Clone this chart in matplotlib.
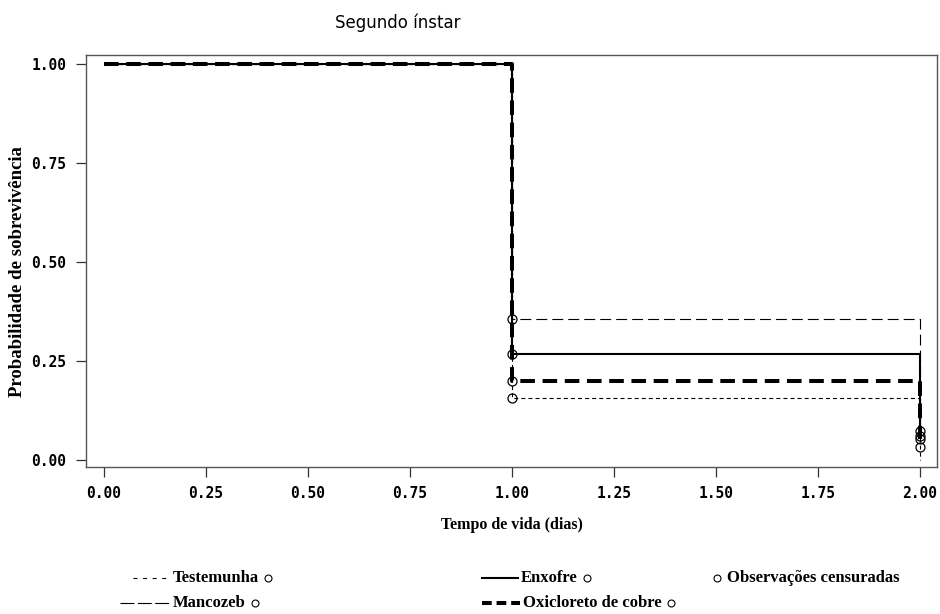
import matplotlib.pyplot as plt
from matplotlib.lines import Line2D

plt.rcParams['lines.scale_dashes'] = False

# Kaplan-Meier survival curves per treatment (time in days)
tempos = [0, 1, 2]
testemunha = [1.0, 0.156, 0.0]
mancozeb = [1.0, 0.355, 0.073]
enxofre = [1.0, 0.267, 0.060]
oxicloreto = [1.0, 0.200, 0.053]

# censored observations (time, survival)
cens_tempo = [1, 1, 1, 1, 2, 2, 2, 2]
cens_prob = [0.355, 0.267, 0.200, 0.156, 0.073, 0.060, 0.053, 0.033]

xticks = [0.00, 0.25, 0.50, 0.75, 1.00, 1.25, 1.50, 1.75, 2.00]
yticks = [0.00, 0.25, 0.50, 0.75, 1.00]

# line styles: width in points, dash pattern in points
estilos = {
    'Testemunha': dict(dat=testemunha, lw=0.8, dashes=(2.9, 2.2), leg=(2.9, 4.0)),
    'Mancozeb': dict(dat=mancozeb, lw=0.8, dashes=(7.9, 3.6), leg=(10, 2.5)),
    'Enxofre': dict(dat=enxofre, lw=1.5, dashes=(), leg=()),
    'Oxicloreto de cobre': dict(dat=oxicloreto, lw=2.9, dashes=(10.5, 5.5), leg=(7, 3.5)),
}

fig = plt.figure(figsize=(9.4, 6.14), dpi=100)
ax = fig.add_axes([86 / 940, 1 - 467 / 614, (937 - 86) / 940, (467 - 55) / 614])

for nome in ['Testemunha', 'Mancozeb', 'Enxofre', 'Oxicloreto de cobre']:
    e = estilos[nome]
    ls = '-' if not e['dashes'] else (0, e['dashes'])
    ax.step(tempos, e['dat'], where='post', color='black', lw=e['lw'],
            linestyle=ls, solid_capstyle='butt', dash_capstyle='butt')

ax.plot(cens_tempo, cens_prob, 'o', mfc='none', mec='black', ms=6.5, mew=0.9)

ax.set_xlim(-0.044, 2.042)
ax.set_ylim(-0.0176, 1.0227)
ax.set_xticks(xticks)
ax.set_yticks(yticks)
tick_font = dict(family='DejaVu Sans Mono', weight='bold', size=10.5)
ax.set_xticklabels(['%.2f' % t for t in xticks], fontdict=tick_font)
ax.set_yticklabels(['%.2f' % t for t in yticks], fontdict=tick_font)
ax.tick_params(direction='out', length=7, width=0.9, color='#333333', pad=7)
for s in ax.spines.values():
    s.set_color('#555555')
    s.set_linewidth(1.0)

ax.set_xlabel('Tempo de vida (dias)', family='Liberation Serif', weight='bold',
              size=11.5, labelpad=11)
fig.text(18 / 940, 1 - 272 / 614, 'Probabilidade de sobrevivência',
         family='Liberation Serif', weight='bold', size=13.5,
         rotation=90, ha='center', va='center')
fig.text(398 / 940, 1 - 23 / 614, 'Segundo ínstar', family='DejaVu Sans',
         size=12, ha='center', va='center')

# legend drawn in pixel coordinates below the axes
leg = fig.add_axes([0, 0, 1, 1], facecolor='none')
leg.set_xlim(0, 940)
leg.set_ylim(614, 0)
leg.axis('off')
lf = dict(family='Liberation Serif', weight='bold', size=12, va='center')
entradas = [
    ('Testemunha', 133, 170, 578),
    ('Mancozeb', 120, 170, 603),
    ('Enxofre', 482, 518, 578),
    ('Oxicloreto de cobre', 482, 520, 603),
]
for nome, x0, x1, y in entradas:
    e = estilos[nome]
    ls = '-' if not e['leg'] else (0, e['leg'])
    leg.add_line(Line2D([x0, x1], [y, y], color='black', lw=e['lw'],
                        linestyle=ls, dash_capstyle='butt'))
    leg.text(x1 + 3, y, nome, **lf)

# open circle after each label marks censoring
fig.canvas.draw()
r = fig.canvas.get_renderer()
for txt in list(leg.texts):
    bb = txt.get_window_extent(r)
    y = txt.get_position()[1]
    leg.plot([bb.x1 + 9], [y], 'o', mfc='none', mec='black', ms=5, mew=0.8)
leg.plot([717], [578], 'o', mfc='none', mec='black', ms=5, mew=0.8)
leg.text(727, 578, 'Observações censuradas', **lf)

fig.savefig('out.png', dpi=100)
